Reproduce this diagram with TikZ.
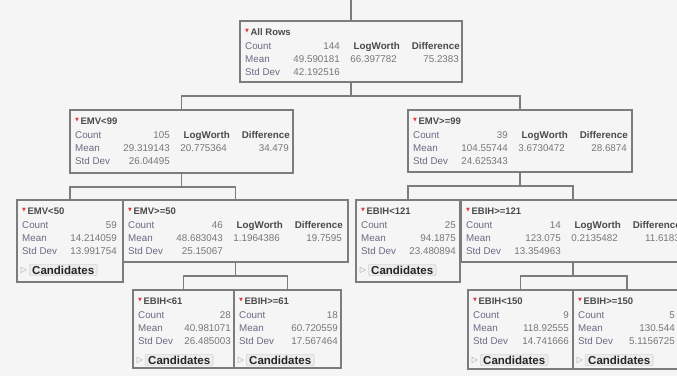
\documentclass[tikz,border=0pt]{standalone}
\usepackage{fontspec}
\setmainfont{Liberation Sans}
\newfontfamily\symfont{DejaVu Sans}
\usetikzlibrary{calc}

\definecolor{bg}{HTML}{F5F5F5}
\definecolor{frame}{HTML}{7C7C7C}
\definecolor{lbl}{HTML}{6A6A84}
\definecolor{val}{HTML}{767676}
\definecolor{hdr}{HTML}{4A4A4A}
\definecolor{mark}{HTML}{E23A44}
\definecolor{btn}{HTML}{ECECEC}

\tikzset{
  panel/.style={draw=frame, line width=1.2pt, fill=bg, anchor=north west,
    inner sep=0pt, outer sep=0pt},
  edge/.style={draw=frame, line width=1.1pt},
  ttl/.style={anchor=base west, inner sep=0pt,
    font=\fontsize{9.5}{10}\selectfont\bfseries, text=hdr},
  lab/.style={anchor=base west, inner sep=0pt,
    font=\fontsize{9.8}{10}\selectfont, text=lbl},
  num/.style={anchor=base east, inner sep=0pt,
    font=\fontsize{9.8}{10}\selectfont, text=val},
  head/.style={anchor=base east, inner sep=0pt,
    font=\fontsize{9.8}{10}\selectfont\bfseries, text=hdr},
  candbtn/.style={draw=black!22, fill=btn, rounded corners=2pt,
    inner xsep=3pt, inner ysep=1.5pt, anchor=west,
    font=\fontsize{11.5}{12}\selectfont\bfseries, text=black!85},
  tri/.style={anchor=center, inner sep=0pt,
    font=\symfont\fontsize{8}{8}\selectfont, text=black!40},
}

% red disclosure mark in front of each node title
\newcommand\redmark{{\color{mark}\symfont\fontsize{5}{5}\selectfont\raisebox{2.5pt}{▼}}}

% framed node with its title: name, x, y, width, height, title
\newcommand\panelbox[6]{%
  \node[panel, minimum width=#4pt, minimum height=#5pt] (#1) at (#2,#3) {};
  \node[ttl] (#1-t) at (#2+5,#3+14) {\redmark\,#6};
}
% Count / Mean / Std Dev rows: [value column], name, x, y, count, mean, sd
\newcommand\statrows[7][100]{%
  \node[lab] (#2-c)  at (#3+5,#4+28)   {Count};
  \node[num] (#2-cv) at (#3+#1,#4+28) {#5};
  \node[lab] (#2-m)  at (#3+5,#4+41)   {Mean};
  \node[num] (#2-mv) at (#3+#1,#4+41) {#6};
  \node[lab] (#2-s)  at (#3+5,#4+54)   {Std Dev};
  \node[num] (#2-sv) at (#3+#1,#4+54) {#7};
}
% split columns: name, x, y, logworth, difference
\newcommand\splitcols[5]{%
  \node[head] (#1-lh) at (#2+160,#3+28) {LogWorth};
  \node[num]  (#1-lv) at (#2+157,#3+41) {#4};
  \node[head] (#1-dh) at (#2+220,#3+28) {Difference};
  \node[num]  (#1-dv) at (#2+219,#3+41) {#5};
}
% Candidates button: name, x, y
\newcommand\candrow[3]{%
  \node[tri] (#1-tr) at (#2+7,#3+70) {▷};
  \node[candbtn] (#1-b) at (#2+12,#3+70) {Candidates};
}

\begin{document}
\begin{tikzpicture}[x=1pt, y=-1pt]
  \useasboundingbox (0,0) rectangle (677,376);
  \clip (0,0) rectangle (677,376);
  \fill[bg] (0,0) rectangle (677,376);

  % level 1
  \panelbox{root}{240}{21}{222}{61}{All Rows}
  \statrows{root}{240}{21}{144}{49.590181}{42.192516}
  \splitcols{root}{240}{21}{66.397782}{75.2383}

  % level 2
  \panelbox{lo99}{70}{110}{223}{63}{EMV<99}
  \statrows{lo99}{70}{110}{105}{29.319143}{26.04495}
  \splitcols{lo99}{70}{110}{20.775364}{34.479}

  \panelbox{hi99}{408}{110}{224}{62}{EMV>=99}
  \statrows{hi99}{408}{110}{39}{104.55744}{24.625343}
  \splitcols{hi99}{408}{110}{3.6730472}{28.6874}

  % level 3
  \panelbox{lo50}{17}{200}{106}{82}{EMV<50}
  \statrows{lo50}{17}{200}{59}{14.214059}{13.991754}
  \candrow{lo50}{17}{200}

  \panelbox{hi50}{123}{200}{225}{62}{EMV>=50}
  \statrows{hi50}{123}{200}{46}{48.683043}{25.15067}
  \splitcols{hi50}{123}{200}{1.1964386}{19.7595}

  \panelbox{lo121}{356}{200}{104}{82}{EBIH<121}
  \statrows[100]{lo121}{356}{200}{25}{94.1875}{23.480894}
  \candrow{lo121}{356}{200}

  \panelbox{hi121}{461}{200}{224}{62}{EBIH>=121}
  \statrows{hi121}{461}{200}{14}{123.075}{13.354963}
  \splitcols{hi121}{461}{200}{0.2135482}{11.6183}

  % level 4
  \panelbox{lo61}{133}{290}{101}{78}{EBIH<61}
  \statrows[98]{lo61}{133}{290}{28}{40.981071}{26.485003}
  \candrow{lo61}{133}{290}

  \panelbox{hi61}{234}{290}{107}{78}{EBIH>=61}
  \statrows[104]{hi61}{234}{290}{18}{60.720559}{17.567464}
  \candrow{hi61}{234}{290}

  \panelbox{lo150}{468}{290}{105}{79}{EBIH<150}
  \statrows[101]{lo150}{468}{290}{9}{118.92555}{14.741666}
  \candrow{lo150}{468}{290}

  \panelbox{hi150}{573}{290}{108}{79}{EBIH>=150}
  \statrows[102]{hi150}{573}{290}{5}{130.544}{5.1156725}
  \candrow{hi150}{573}{290}

  % connectors
  \coordinate (feed) at (351,0);
  \draw[edge] (feed) -- (root.north);
  \draw[edge] (root.south) -- ++(0,14) -| (lo99.north);
  \draw[edge] (root.south) -- ++(0,14) -| (hi99.north);
  \draw[edge] (lo99.south) -- ++(0,14) -| (lo50.north);
  \draw[edge] (lo99.south) -- ++(0,14) -| (hi50.north);
  \draw[edge] (hi99.south) -- ++(0,14) -| (lo121.north);
  \draw[edge] (hi99.south) -- ++(0,14) -| (hi121.north);
  \draw[edge] (hi50.south) -- ++(0,14) -| (lo61.north);
  \draw[edge] (hi50.south) -- ++(0,14) -| (hi61.north);
  \draw[edge] (hi121.south) -- ++(0,14) -| (lo150.north);
  \draw[edge] (hi121.south) -- ++(0,14) -| (hi150.north);
\end{tikzpicture}
\end{document}
